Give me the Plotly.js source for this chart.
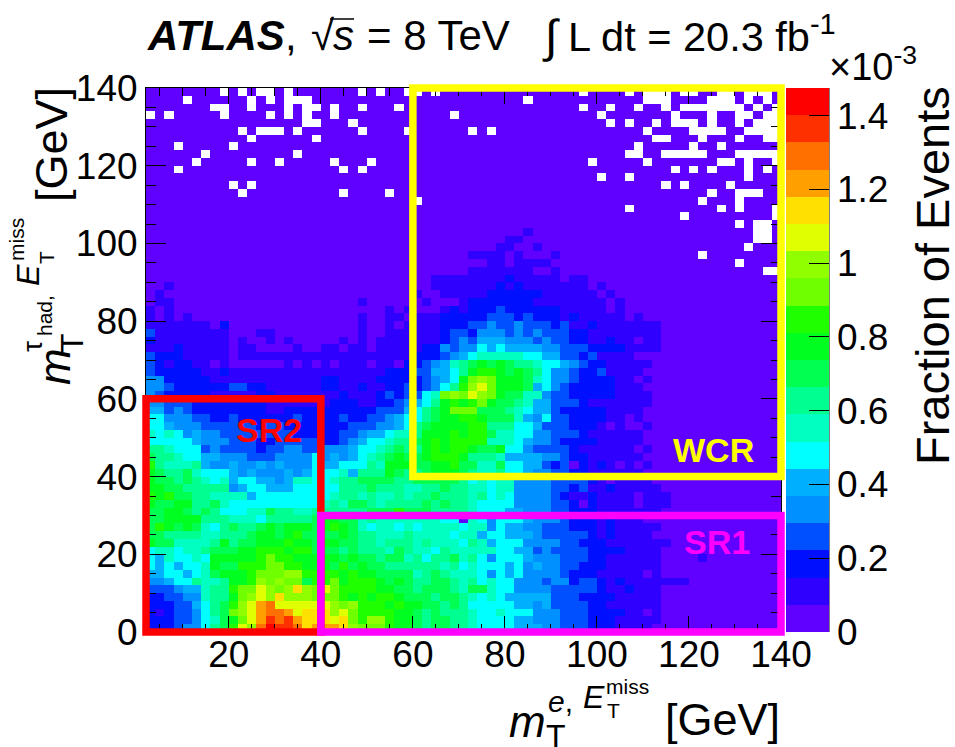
<!DOCTYPE html>
<html><head><meta charset="utf-8">
<script src="https://cdn.plot.ly/plotly-3.0.1.min.js"></script>
<style>html,body{margin:0;padding:0;background:#fff}</style></head>
<body><div id="chart" style="width:955px;height:747px"></div>
<script>
// Palette levels (bottom to top)
const levelColors = ["#6000ff","#3000ff","#0010ff","#0050ff","#0090ff","#00b0ff","#00ffff","#00ffc0","#00ff90","#00ff50",
                     "#00ff20","#20ff00","#70ff00","#90ff00","#e0ff00","#ffe000","#ffa000","#ff7000","#ff3000","#ff0000"];
const zMax = 1.475;            // top of the colour bar, in units of 10^-3
const binWidth = 2, xStart = 2, yStart = 0;

// Fraction of events, as palette level per bin (0-9, a-j), row 0 = lowest m_T(tau) bin.
// Left: columns from m_T(e)=2 to 72 GeV. Right: columns from 72 GeV up; missing cells are level 0.
const levelsLeft = [
"222344689bedhjiihfgggfdcccbaa989988",
"222334679acegihigfffefcbddbaa989988",
"212334689cdeghhgefffdecbbbbaa989888",
"222335689bdegheeeeeedcdbbbabaa99898",
"223344788acdedfdddcccbababba9998998",
"333455788bccedcdfdcecbbbbaa99899987",
"445668778aabdcdcc9bbcabbba9a9889987",
"55665679aaabcccddbbbbabaa9999789877",
"6565667a99bbbccbbaaa9b9a99888888786",
"6576676aaaaabcbbaaaaa9a998997868897",
"6776778999aabbbabb99989888798776877",
"a9977778a899aaabaa9aa99887888787776",
"998888778889aa9ab9999a9887778777767",
"9ba9a97689889a9aaa9aba9767767677776",
"99aaaa8887776888889aa9978777777766",
"99aa9898666779887788" + "8888999b99" + "98888",
"a99aa889766666666667" + "8799878888" + "98988",
"bab99887777566666666" + "7887877878" + "89888",
"aa998888845665556666" + "6888988877" + "88988",
"a9989876756655457766" + "7889999889" + "99998",
"a9889766654544454566" + "675888a988" + "9aaa9",
"b8777854454454544465" + "566687aaa9" + "9aab9",
"98876655444333444464" + "5456789a99" + "abbba",
"88766634333323344334" + "4456678988" + "ababb",
"66666544433322333332" + "2345667889" + "ababb",
"76764544333333332222" + "2334556778" + "aaaba",
"66544433333323322222" + "2233344568" + "9aaaa",
"66444332232222223222" + "2322334566" + "89aab",
"55343222222221122222" + "2222233356" + "89acc",
"44333222222221111111" + "2221122345" + "68aba",
"43222221111122111111" + "1211123233" + "67cdc",
"44322222233221111112" + "2112112232" + "3468b",
"44222221111111111112" + "2111122222" + "3456a",
"32222211211111111111" + "1111112223" + "35568",
"32122110100000010101" + "0111011022" + "34578",
"32221111101111111111" + "1111111112" + "22345",
"11121111101100001001" + "1011011111" + "22434",
"21111111101001010000" + "0101011111" + "11234",
"31111111100011000000" + "0001001111" + "11233",
"11111110200000000000" + "0001001011" + "11222",
"10101000000000000000" + "0001001101" + "11222",
"10100000000000000000" + "0000001010" + "00121",
"01100000000000000000" + "0001000000" + "10001",
"01000000000000000000" + "0000000001" + "00111",
"00100000000000000000" + "0000000000" + "01111",
"00000000000000000000" + "0000000000" + "01111"
];
const levelsRight = [
"7666655544"+"333"+"222"+"1111",
"7666655444"+"333"+"222"+"11111",
"7667666444"+"333"+"2222"+"11"+"0"+"1",
"666665545"+"3333"+"22"+"111111",
"767655555"+"333"+"2222"+"11111",
"99766444433333"+"2"+"11"+"2"+"111",
"86766444344"+"2"+"33"+"2"+"1"+"2"+"1111111",
"764656444432"+"22"+"11111"+"0"+"1",
"766656454433"+"222"+"111111",
"8646665444333"+"22"+"111111"+"0000"+"1",
"7776655343333"+"2222"+"1111",
"875666444433"+"222"+"1111111",
"7566555433333"+"2"+"1"+"2"+"1111",
"77465544333"+"222"+"1"+"2"+"11111",
"76466654443"+"222"+"1"+"2"+"111",
"76665544433"+"222"+"1111111",
"76666444433"+"2"+"0"+"2"+"1111"+"0"+"111",
"78676444432"+"11"+"2"+"1111"+"0"+"111",
"77677444433"+"2"+"3"+"11"+"2"+"11111",
"6767744443333"+"2"+"1"+"0"+"1111",
"87786654433"+"22"+"111111",
"97796655323"+"0"+"2"+"1"+"2"+"1"+"0"+"1"+"0"+"1",
"88875555443"+"22"+"111111",
"a99a6643333"+"2"+"111111"+"0"+"1",
"bb77765443"+"2222"+"11111",
"bb9776644333"+"2"+"111111",
"bb888665333"+"222"+"1"+"0"+"1"+"00"+"1",
"ba999754633"+"2222"+"11"+"0"+"1",
"c9998765532"+"2222"+"1111",
"bca998755333"+"2"+"1111111",
"edca9977433"+"22222"+"1111",
"decaaa95643"+"22222"+"111",
"cdcaaa976443"+"2222"+"11"+"0"+"1",
"abba9a986443223"+"1111",
"9a9a988"+"7"+"66"+"5"+"4"+"3"+"22"+"11111",
"6"+"77777"+"66"+"55"+"33"+"2"+"3"+"1111",
"4"+"6"+"5"+"6"+"5555"+"44"+"333"+"2222"+"1111",
"3555"+"444"+"3"+"4"+"33"+"22"+"11"+"2"+"11"+"0"+"11",
"2"+"444"+"3"+"4"+"3"+"4"+"33"+"3"+"22"+"11111111",
"33"+"4"+"33"+"4"+"333"+"2"+"3"+"11"+"2"+"1111111",
"22"+"333"+"2"+"3"+"222"+"1"+"2"+"11111"+"0"+"1",
"222"+"3"+"222222"+"11111"+"01",
"2222222"+"11111111"+"01",
"11"+"222222"+"111111"+"0"+"1",
"111212111111101",
"1111211111011",
"1111111001",
"001101111",
"1111010001",
"00011001",
"000011",
"000000100000"
];
// Empty (white) bins: row counted from the top (y = 138-140 is row 0) -> column indices
const emptyBins = [
[8,10,12,13,15,23,25,28,29,31,47,52,54,55,56,58,59,62,63,65,66,67],
[4,11,13,15,16,17,41,54,55,56,61,62,63,65,67],
[7,8,11,15,17,18,20,23,27,47,50,53,56,58,59,60,61,62,63,64,66,68],
[0,2,8,13,15,17,20,33,49,57,61,64,65,67,68],
[17,18,22,50,52,55,57,58,59,61,64,66,67,68],
[10,12,13,14,16,23,28,35,37,54,59,60,61,62,65,66,67,68],
[11,18,55,56,60,64,67,68],
[3,9,53,59,62],
[6,16,52,53,56,57,58,59,60,64,65,66,67,68],
[5,11,14,20,24,48,54,62,63,65,68],
[3,21,23,57,59,61,65,67],
[49,52,65],
[9,11,56,58,63],
[10,21,26,61,64,65,66],
[29,60,64],
[52,62,64,68],
[58,68],
[64,66,67],
[66,67],
[66,67],
[65],
[60],
[64],
[67,68]
];
const xCenters = [], yCenters = [];
for (let i = 0; i < 69; i++) xCenters.push(xStart + binWidth * (i + 0.5));
for (let j = 0; j < 70; j++) yCenters.push(yStart + binWidth * (j + 0.5));
const levelStep = zMax / levelColors.length;
const z = yCenters.map((_, j) => {
  const left = (levelsLeft[j] || "").padEnd(35, "0").slice(0, 35);
  const right = (levelsRight[j] || "").padEnd(34, "0").slice(0, 34);
  const row = Array.from(left + right).map(ch => (parseInt(ch, 20) + 0.5) * levelStep);
  const emptyRow = emptyBins[69 - j] || [];
  emptyRow.forEach(c => { row[c] = null; });
  return row;
});
const colorscale = [];
levelColors.forEach((c, i) => {
  colorscale.push([i / levelColors.length, c]);
  colorscale.push([(i + 1) / levelColors.length, c]);
});

const W = 955, H = 747, L = 146, T = 88, R = 781, B = 632;
const regions = [
  {name: "WCR", x0: 60, x1: 140, y0: 40, y1: 140, color: "#ffff00"},
  {name: "SR2", x0: 2,  x1: 40,  y0: 0,  y1: 60,  color: "#ff0000"},
  {name: "SR1", x0: 40, x1: 140, y0: 0,  y1: 30,  color: "#ff00ff"}
];
const fx = x => (x - xStart) / (140 - xStart), fy = y => y / 140;
const shapes = regions.map(r => ({type: "rect", xref: "paper", yref: "paper",
  x0: fx(r.x0), x1: fx(r.x1), y0: fy(r.y0), y1: fy(r.y1),
  line: {color: r.color, width: 7.5}, fillcolor: "rgba(0,0,0,0)"}));
const px = x => (x - L) / (R - L), py = y => (B - y) / (B - T);
shapes.push({type: "line", xref: "paper", yref: "paper", x0: px(829), x1: px(829), y0: 0, y1: 1, line: {color: "#000", width: 1}});
shapes.push({type: "line", xref: "paper", yref: "paper", x0: px(330), x1: px(354), y0: py(19), y1: py(19), line: {color: "#000", width: 1.5}});

const FONT = "Liberation Sans";
function label(text, x, y, size, extra) {
  return Object.assign({text, x: px(x), y: py(y), xref: "paper", yref: "paper", showarrow: false,
    xanchor: "center", yanchor: "middle", borderpad: 0, font: {family: FONT, size, color: "#000"}}, extra || {});
}
const rot = {textangle: -90};
const annotations = [
  label("<b><i>ATLAS</i></b>,", 222, 36, 42),
  label("√", 323, 36, 42),
  label("<i>s</i>", 343, 36, 42),
  label("= 8 TeV", 438, 36, 42),
  label("∫", 551, 36, 46),
  label("L dt = 20.3 fb<sup>-1</sup>", 702, 34, 41.5),
  label("SR2", 269, 430, 34, {font: {family: FONT, size: 34, color: "#ff0000", weight: 700}}),
  label("WCR", 713, 450, 34, {font: {family: FONT, size: 34, color: "#ffff00", weight: 700}}),
  label("SR1", 717, 542, 34, {font: {family: FONT, size: 34, color: "#ff00ff", weight: 700}}),
  label("×10<sup>-3</sup>", 873, 64, 38),
  label("Fraction of Events", 932, 276, 47, rot),
  // x axis title
  label("<i>m</i>", 527, 721, 44),
  label("T", 556, 736, 32),
  label("<i>e</i>,", 560, 701, 30),
  label("<i>E</i>", 594, 697, 32),
  label("miss", 627, 686, 21),
  label("T", 613, 710, 21),
  label("[GeV]", 722, 719, 45),
  // y axis title
  label("<i>m</i>", 54, 367, 44, rot),
  label("T", 72, 343, 32, rot),
  label("τ", 32, 347, 28, rot),
  label("had,", 44, 316, 21, rot),
  label("<i>E</i>", 28, 275, 32, rot),
  label("T", 46, 258, 21, rot),
  label("miss", 16, 240, 21, rot),
  label("[GeV]", 52, 145, 45, rot)
];
const tickFont = {family: FONT, size: 37, color: "#000"};
const minorVals = [5,10,15,25,30,35,45,50,55,65,70,75,85,90,95,105,110,115,125,130,135];
const data = [{
  type: "heatmap", x: xCenters, y: yCenters, z, zmin: 0, zmax: zMax, colorscale, hoverongaps: false,
  colorbar: {x: 640 / 635, xanchor: "left", xpad: 0, ypad: 0, thickness: 43, thicknessmode: "pixels",
    len: 1, lenmode: "fraction", y: 0.5, yanchor: "middle", outlinewidth: 0,
    tickmode: "array", tickvals: [0, 0.2, 0.4, 0.6, 0.8, 1, 1.2, 1.4], ticktext: ["0","0.2","0.4","0.6","0.8","1","1.2","1.4"],
    ticks: "inside", ticklen: 20, tickwidth: 1, tickcolor: "#000", tickfont: tickFont}
}];
const layout = {
  width: W, height: H, margin: {l: L, r: W - R, t: T, b: H - B, pad: 0},
  paper_bgcolor: "#fff", plot_bgcolor: "#fff", font: {family: FONT},
  xaxis: {range: [2, 140], tickmode: "array", tickvals: [20,40,60,80,100,120,140], ticks: "inside", ticklen: 16, tickwidth: 1, tickcolor: "#000",
    ticklabelstandoff: -10,
    minor: {tickmode: "array", tickvals: minorVals, ticks: "inside", ticklen: 8, tickwidth: 1, tickcolor: "#000"},
    showgrid: false, zeroline: false, showline: true, linecolor: "#000", linewidth: 1, mirror: "ticks", tickfont: tickFont},
  yaxis: {range: [0, 140], tickmode: "array", tickvals: [0,20,40,60,80,100,120,140], ticks: "inside", ticklen: 20, tickwidth: 1, tickcolor: "#000",
    minor: {tickmode: "array", tickvals: minorVals, ticks: "inside", ticklen: 10, tickwidth: 1, tickcolor: "#000"},
    showgrid: false, zeroline: false, showline: true, linecolor: "#000", linewidth: 1, mirror: "ticks", tickfont: tickFont},
  shapes, annotations
};
Plotly.newPlot("chart", data, layout, {displayModeBar: false, staticPlot: true});
</script></body></html>
